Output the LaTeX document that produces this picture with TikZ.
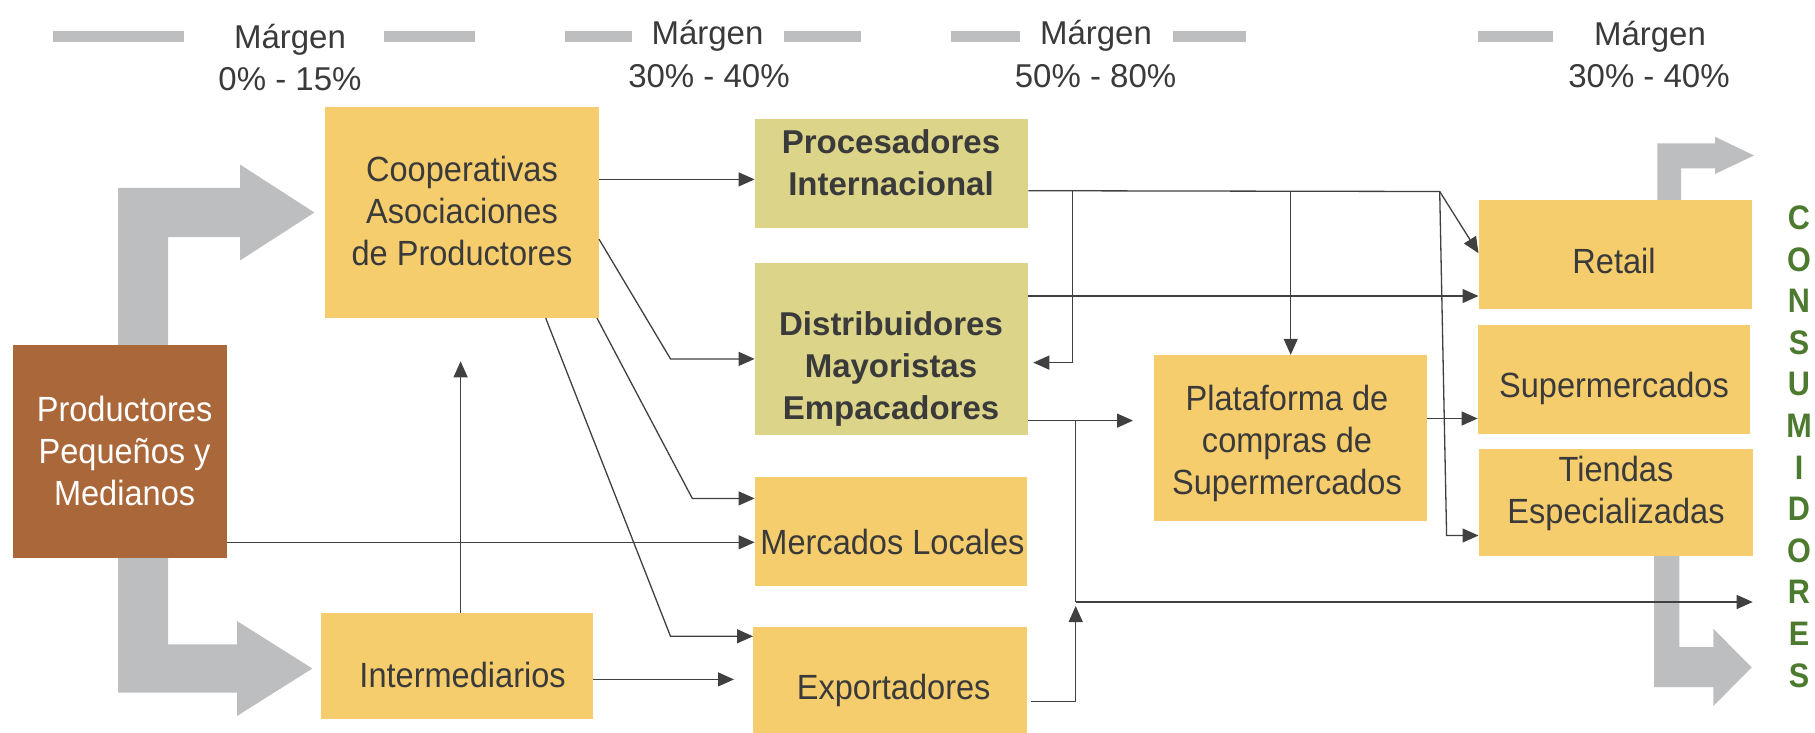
\documentclass[tikz,border=0pt]{standalone}
\usepackage{fontspec}
\setmainfont{Liberation Sans}
\newfontfamily\boxfont[FakeStretch=0.93]{Liberation Sans}
\newfontfamily\consfont[FakeStretch=0.9]{Liberation Sans}
\usetikzlibrary{arrows.meta}
\definecolor{cbox}{HTML}{F6CD6D}
\definecolor{cobox}{HTML}{DCD589}
\definecolor{cbrown}{HTML}{AA6739}
\definecolor{garrow}{HTML}{BDBEC0}
\definecolor{ctxt}{HTML}{3A3A3A}
\definecolor{cgreen}{HTML}{4C7A2E}
\definecolor{cline}{HTML}{404040}
\begin{document}
\begin{tikzpicture}[x=1pt,y=-1pt,
  boxbase/.style={draw=none, inner sep=0pt, outer sep=0pt, rectangle},
  ybox/.style={boxbase, fill=cbox},
  obox/.style={boxbase, fill=cobox},
  brbox/.style={boxbase, fill=cbrown},
  lbl/.style={inner sep=0pt, text=ctxt, align=center, font=\boxfont\fontsize{35}{42}\selectfont},
  blbl/.style={inner sep=0pt, text=ctxt, align=center, font=\fontsize{33}{42}\selectfont\bfseries},
  toptxt/.style={inner sep=0pt, anchor=base, text=ctxt, font=\fontsize{33}{40}\selectfont},
  barfill/.style={fill=garrow},
  ln/.style={draw=cline, line width=1.3pt},
  arr/.style={ln, -{Triangle[length=16pt,width=14pt]}},
  consl/.style={inner sep=0pt, anchor=base, text=cgreen, font=\consfont\fontsize{34}{40}\selectfont\bfseries},
]
\useasboundingbox (0,0) rectangle (1815,732);

% ---- top margin labels ----
\fill[barfill] (52.8,31) rectangle (183.7,42);
\fill[barfill] (383.5,31) rectangle (475.3,42);
\fill[barfill] (565.4,31) rectangle (631.5,42);
\fill[barfill] (783.6,31) rectangle (861,42);
\fill[barfill] (951.3,31) rectangle (1019.6,42);
\fill[barfill] (1172.5,31) rectangle (1246,42);
\fill[barfill] (1477.6,31) rectangle (1553.4,42);
\node[toptxt] (m1) at (290,48) {Márgen};
\node[toptxt] (p1) at (290,90) {0\% - 15\%};
\node[toptxt] (m2) at (707.5,44) {Márgen};
\node[toptxt] (p2) at (709,87) {30\% - 40\%};
\node[toptxt] (m3) at (1096,44) {Márgen};
\node[toptxt] (p3) at (1095.6,87) {50\% - 80\%};
\node[toptxt] (m4) at (1650,45) {Márgen};
\node[toptxt] (p4) at (1649,87) {30\% - 40\%};

% ---- big grey arrows ----
\fill[garrow] (118,187.9) -- (240,187.9) -- (240,164.5) -- (314.4,212.5) -- (240,260.5) -- (240,237.1)
  -- (168,237.1) -- (168,644.4) -- (237,644.4) -- (237,621) -- (312.4,668.5) -- (237,716)
  -- (237,692.7) -- (118,692.7) -- cycle;
\fill[garrow] (1657.3,215) -- (1657.3,143.3) -- (1715,143.3) -- (1715,136.7) -- (1754,155.5)
  -- (1715,174) -- (1715,168.3) -- (1681,168.3) -- (1681,215) -- cycle;
\fill[garrow] (1654,545) -- (1679.3,545) -- (1679.3,647) -- (1713.3,647) -- (1713.3,628.7)
  -- (1751.7,667.4) -- (1713.3,706) -- (1713.3,687) -- (1654,687) -- cycle;

% ---- boxes ----
\node[ybox, minimum width=274pt, minimum height=210.8pt] (coop) at (462,212.7) {};
\node[brbox, minimum width=214.4pt, minimum height=212.9pt] (prod) at (120.2,451.25) {};
\node[ybox, minimum width=272pt, minimum height=106pt] (inter) at (457,666) {};
\node[obox, minimum width=273.7pt, minimum height=108.8pt] (proc) at (891.45,173.8) {};
\node[obox, minimum width=273.7pt, minimum height=172.2pt] (dist) at (891.45,348.6) {};
\node[ybox, minimum width=272.4pt, minimum height=108.9pt] (merc) at (890.8,531.45) {};
\node[ybox, minimum width=274pt, minimum height=106pt] (expo) at (890,679.5) {};
\node[ybox, minimum width=273.4pt, minimum height=166.6pt] (plat) at (1290.7,438.1) {};
\node[ybox, minimum width=273.5pt, minimum height=108.5pt] (retail) at (1615.25,254.25) {};
\node[ybox, minimum width=272.2pt, minimum height=108.9pt] (super) at (1613.7,379.45) {};
\node[ybox, minimum width=274.5pt, minimum height=106.8pt] (tiend) at (1615.75,502.2) {};

% ---- box texts ----
\node[lbl] (coopT) at (462,211.3) {Cooperativas\\Asociaciones\\de Productores};
\node[lbl, text=white] (prodT) at (124.6,450.7) {Productores\\Pequeños y\\Medianos};
\node[lbl] (interT) at (462.6,674.6) {Intermediarios};
\node[blbl] (procT) at (891,162.5) {Procesadores\\Internacional};
\node[blbl] (distT) at (891,368.7) {Distribuidores\\Mayoristas\\Empacadores};
\node[lbl] (mercT) at (892.5,542.3) {Mercados Locales};
\node[lbl] (expoT) at (893.7,690.7) {Exportadores};
\node[lbl] (platT) at (1287,443) {Plataforma de\\compras de\\Supermercados};
\node[lbl] (retT) at (1614,261.3) {Retail};
\node[lbl] (supT) at (1614,388.3) {Supermercados};
\node[lbl] (tiendT) at (1616,493.2) {Tiendas\\Especializadas};

% ---- consumers ----
\foreach \l [count=\i from 0] in {C,O,N,S,U,M,I,D,O,R,E,S}
  \node[consl] (cons\i) at (1799,229.5+41.6*\i) {\l};

% ---- connectors ----
\coordinate (coopin) at (460.6,361.3);
\coordinate (jn) at (1075.7,602);
\coordinate (consum) at (1752.7,602);
\coordinate (b1) at (1072.7,191);
\coordinate (b2) at (1439.7,191.5);

\draw[arr] (coop.east |- 0,179.4) -- (proc.west |- 0,179.4);
\draw[arr] (coop.east |- 0,239.1) -- (670.5,358.9) -- (dist.west |- 0,358.9);
\draw[arr] ([xshift=-2pt]coop.south east) -- (692.3,498.4) -- (merc.west |- 0,498.4);
\draw[arr] (coop.south -| 545.7,0) -- (670.5,636.3) -- (expo.west |- 0,636.3);
\draw[arr] (prod.east |- 0,542.3) -- (merc.west |- 0,542.3);
\draw[arr] (inter.north -| coopin) -- (coopin);
\draw[arr, shorten >=19pt] (inter.east |- 0,679.4) -- (expo.west |- 0,679.4);

\draw[arr] (proc.east |- 0,190.7) -- (b2) -- (retail.west |- 0,253.2);
\draw[arr, shorten >=5pt] (b1) -- (1072.7,362.6) -- (dist.east |- 0,362.6);
\draw[arr] (plat.north |- b1) -- (plat.north);
\draw[arr] (b2) -- (1446.6,535.5) -- (tiend.west |- 0,535.5);
\draw[arr] (dist.east |- 0,296) -- (retail.west |- 0,296);
\draw[arr, shorten >=21pt] (dist.east |- 0,420.6) -- (plat.west |- 0,420.6);
\draw[ln] (1075.7,420.6) -- (jn);
\draw[arr] (jn) -- (consum);
\draw[arr, shorten >=4pt] ([xshift=4pt]expo.east |- 0,701.7) -- (jn |- 0,701.7) -- (jn);
\draw[arr] (plat.east |- 0,418.5) -- (super.west |- 0,418.5);
\end{tikzpicture}
\end{document}
